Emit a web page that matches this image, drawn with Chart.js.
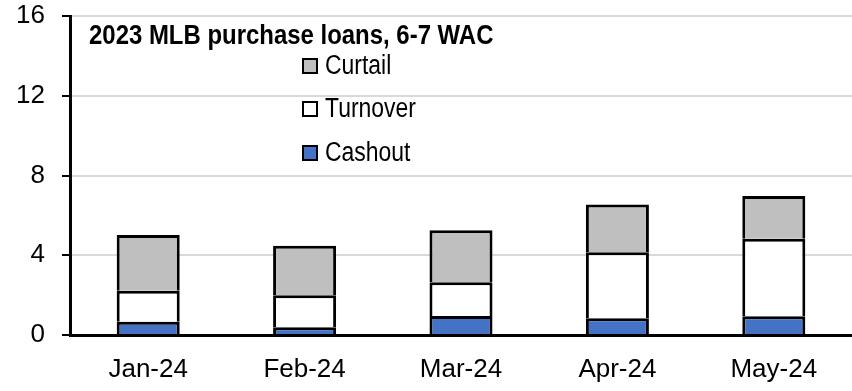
<!DOCTYPE html>
<html>
<head>
<meta charset="utf-8">
<script src="https://cdn.jsdelivr.net/npm/chart.js@4"></script>
<style>
  html, body { margin: 0; padding: 0; background: #fff; }
  canvas { display: block; }
</style>
</head>
<body>
<canvas id="c" width="852" height="391"></canvas>
<script>
// Monthly prepayment speed components
const months = ['Jan-24', 'Feb-24', 'Mar-24', 'Apr-24', 'May-24'];
const cashout = [0.67, 0.39, 0.95, 0.84, 0.94];
const turnover = [1.55, 1.61, 1.69, 3.31, 3.89];
const curtail = [2.80, 2.48, 2.61, 2.40, 2.14];
const yTicks = [0, 4, 8, 12, 16];
const chartTitle = '2023 MLB purchase loans, 6-7 WAC';

const FONT = "'Liberation Sans Narrow', 'Arial Narrow', 'Liberation Sans', Arial, sans-serif";

// Draw text squeezed horizontally to mimic a condensed face
function narrowText(ctx, text, x, y, squeeze) {
  ctx.save();
  ctx.translate(x, y);
  ctx.scale(squeeze, 1);
  ctx.fillText(text, 0, 0);
  ctx.restore();
}

// Title and in-plot legend (legend listed top-down: last stacked series first)
const overlayPlugin = {
  id: 'overlay',
  afterDraw(chart) {
    const ctx = chart.ctx;
    ctx.save();
    ctx.fillStyle = '#000';
    ctx.textBaseline = 'alphabetic';
    ctx.textAlign = 'left';
    ctx.font = 'bold 28px ' + FONT;
    narrowText(ctx, chartTitle, 89, 44, 0.855);

    const items = chart.data.datasets.slice().reverse();
    const boxX = 303, box = 14, textX = 325;
    const baselines = [74, 117, 161];
    ctx.font = '27px ' + FONT;
    items.forEach((ds, i) => {
      const cy = baselines[i] - 8;
      ctx.fillStyle = ds.backgroundColor;
      ctx.fillRect(boxX, cy - box / 2, box, box);
      ctx.lineWidth = 2;
      ctx.strokeStyle = '#000';
      ctx.strokeRect(boxX, cy - box / 2, box, box);
      ctx.fillStyle = '#000';
      narrowText(ctx, ds.label, textX, baselines[i], 0.85);
    });
    ctx.restore();
  }
};

const barCommon = {
  borderColor: '#000',
  borderWidth: 3,
  borderSkipped: 'start',
  barPercentage: 0.403,
  categoryPercentage: 1.0
};

new Chart(document.getElementById('c'), {
  type: 'bar',
  data: {
    labels: months,
    datasets: [
      Object.assign({ label: 'Cashout', data: cashout, backgroundColor: '#4472C4' }, barCommon),
      Object.assign({ label: 'Turnover', data: turnover, backgroundColor: '#FFFFFF' }, barCommon),
      Object.assign({ label: 'Curtail', data: curtail, backgroundColor: '#BFBFBF' }, barCommon)
    ]
  },
  options: {
    responsive: false,
    devicePixelRatio: 1,
    animation: false,
    layout: { padding: { top: 16, right: 0, bottom: 0, left: 0 } },
    plugins: {
      legend: { display: false },
      title: { display: false },
      tooltip: { enabled: false }
    },
    scales: {
      x: {
        stacked: true,
        grid: { display: false },
        border: { display: true, color: '#000', width: 3 },
        ticks: {
          color: '#000',
          font: { family: FONT, size: 26 },
          padding: 11,
          maxRotation: 0
        },
        afterFit(scale) { scale.height = 56; }
      },
      y: {
        stacked: true,
        min: yTicks[0],
        max: yTicks[yTicks.length - 1],
        afterBuildTicks(scale) { scale.ticks = yTicks.map(v => ({ value: v })); },
        grid: {
          color: '#D9D9D9',
          lineWidth: 2,
          tickColor: '#000',
          tickLength: 8,
          tickWidth: 2
        },
        border: { display: true, color: '#000', width: 3 },
        ticks: {
          color: '#000',
          font: { family: FONT, size: 26 },
          padding: 17
        },
        afterFit(scale) {
          scale.width = 70;
          scale.paddingTop = 0;
          scale.paddingBottom = 0;
        }
      }
    }
  },
  plugins: [overlayPlugin]
});
</script>
</body>
</html>
